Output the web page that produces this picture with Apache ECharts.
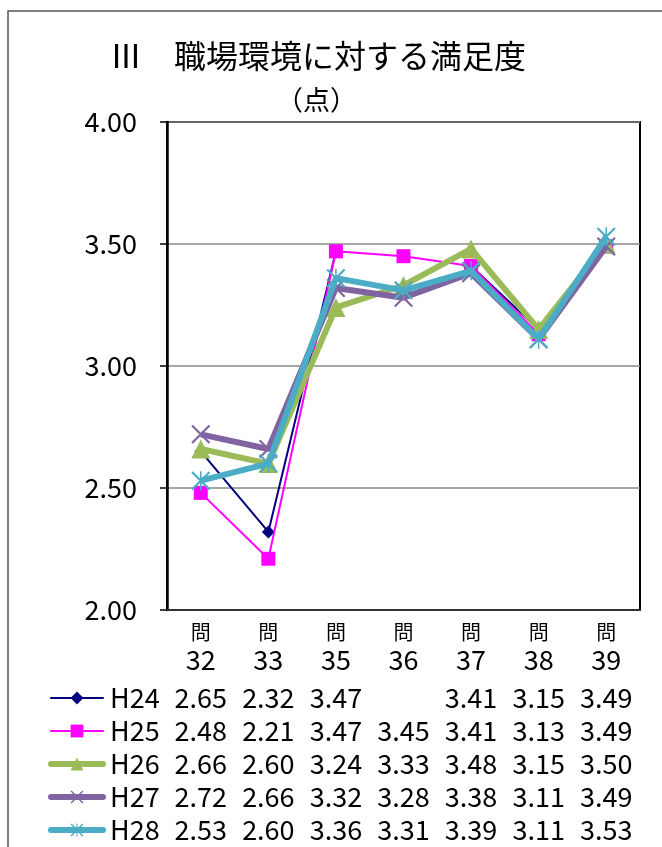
<!DOCTYPE html>
<html><head><meta charset="utf-8">
<script src="https://cdn.jsdelivr.net/npm/echarts@6/dist/echarts.min.js"></script>
<style>html,body{margin:0;padding:0;background:#fff}#c{width:662px;height:847px}</style>
</head><body><div id="c"></div>
<script>
const categories = ['32','33','35','36','37','38','39'];
const seriesNames = ['H24','H25','H26','H27','H28'];
const H24 = [2.65, 2.32, 3.47, null, 3.41, 3.15, 3.49];
const H25 = [2.48, 2.21, 3.47, 3.45, 3.41, 3.13, 3.49];
const H26 = [2.66, 2.60, 3.24, 3.33, 3.48, 3.15, 3.50];
const H27 = [2.72, 2.66, 3.32, 3.28, 3.38, 3.11, 3.49];
const H28 = [2.53, 2.60, 3.36, 3.31, 3.39, 3.11, 3.53];
const yTicks = [2.0, 2.5, 3.0, 3.5, 4.0];
const titleText = 'Ⅲ　職場環境に対する満足度';
const unitText = '（点）';

const values = [H24, H25, H26, H27, H28];
const FONT = '"Noto Sans CJK JP", "Noto Sans", sans-serif';
const xSym = 'path://M0,1.6 L1.6,0 L20,18.4 L18.4,20 Z M18.4,0 L20,1.6 L1.6,20 L0,18.4 Z';
const starSym = 'path://M0,1.6 L1.6,0 L20,18.4 L18.4,20 Z M18.4,0 L20,1.6 L1.6,20 L0,18.4 Z M9.2,0 L10.8,0 L10.8,20 L9.2,20 Z';
const styles = [
  {color:'#000080', width:2, symbol:'diamond', size:13},
  {color:'#FF00FF', width:2, symbol:'rect', size:14},
  {color:'#9BBB59', width:6, symbol:'triangle', size:19},
  {color:'#8064A2', width:6, symbol:xSym, size:19},
  {color:'#4BACC6', width:6, symbol:starSym, size:19}
];

const chart = echarts.init(document.getElementById('c'), null, {renderer:'canvas'});

const xAxes = [{
  type:'category', data:categories, gridIndex:0, position:'bottom',
  axisLine:{show:true, lineStyle:{color:'#333', width:2}},
  axisTick:{show:false},
  axisLabel:{interval:0, margin:8, color:'#000', fontFamily:FONT,
    formatter:(v)=>'{q|問}\n{n|'+v+'}',
    rich:{q:{fontSize:20, lineHeight:28, fontFamily:FONT, color:'#000'},
          n:{fontSize:27, lineHeight:28, fontFamily:FONT, color:'#000'}}}
}];
values.forEach((arr, k) => {
  xAxes.push({
    type:'category', data:categories, gridIndex:0, position:'bottom', offset:66 + 33*k,
    axisLine:{show:false}, axisTick:{show:false}, splitLine:{show:false},
    axisLabel:{interval:0, margin:8, color:'#000', fontSize:27, lineHeight:27, fontFamily:FONT,
      formatter:(v, i)=> arr[i]==null ? '' : arr[i].toFixed(2)}
  });
});

const option = {
  backgroundColor:'#fff',
  animation:false,
  title:[
    {text:titleText, left:110, top:40, padding:0, textStyle:{fontSize:32, fontWeight:'normal', color:'#000', fontFamily:FONT}},
    {text:unitText, left:276, top:86, padding:0, textStyle:{fontSize:27, fontWeight:'normal', color:'#000', fontFamily:FONT}}
  ],
  graphic:[{type:'rect', shape:{x:8, y:11, width:700, height:900}, style:{fill:null, stroke:'#555', lineWidth:1.5}, silent:true, z:-1}],
  grid:{left:167, right:22, top:122, bottom:237, show:true, borderColor:'#000', borderWidth:2, backgroundColor:'transparent'},
  legend:{
    orient:'vertical', left:48, top:681.5, padding:0, itemGap:0, itemWidth:52, itemHeight:16,
    data:seriesNames.map((n, k) => ({name:n, lineStyle:{width:styles[k].width, color:styles[k].color, cap:'round'}})),
    textStyle:{fontSize:27, lineHeight:33, color:'#000', fontFamily:FONT, padding:[0,0,0,2]}
  },
  xAxis:xAxes,
  yAxis:{
    type:'value', min:yTicks[0], max:yTicks[yTicks.length-1], interval:0.5,
    axisLine:{show:true, lineStyle:{color:'#000', width:2.5}},
    axisTick:{show:true, inside:false, length:7, lineStyle:{color:'#000', width:1.5}},
    axisLabel:{margin:30, fontSize:27, color:'#000', fontFamily:FONT, formatter:(v)=>v.toFixed(2)},
    splitLine:{show:true, lineStyle:{color:'#888', width:1.5}}
  },
  series: seriesNames.map((n, k) => ({
    name:n, type:'line', xAxisIndex:0, data:values[k], connectNulls:false,
    symbol:styles[k].symbol, symbolSize:styles[k].size,
    lineStyle:{color:styles[k].color, width:styles[k].width},
    itemStyle:{color:styles[k].color, borderWidth:0},
    emphasis:{disabled:true}, z:2+k
  }))
};
chart.setOption(option);
</script></body></html>
